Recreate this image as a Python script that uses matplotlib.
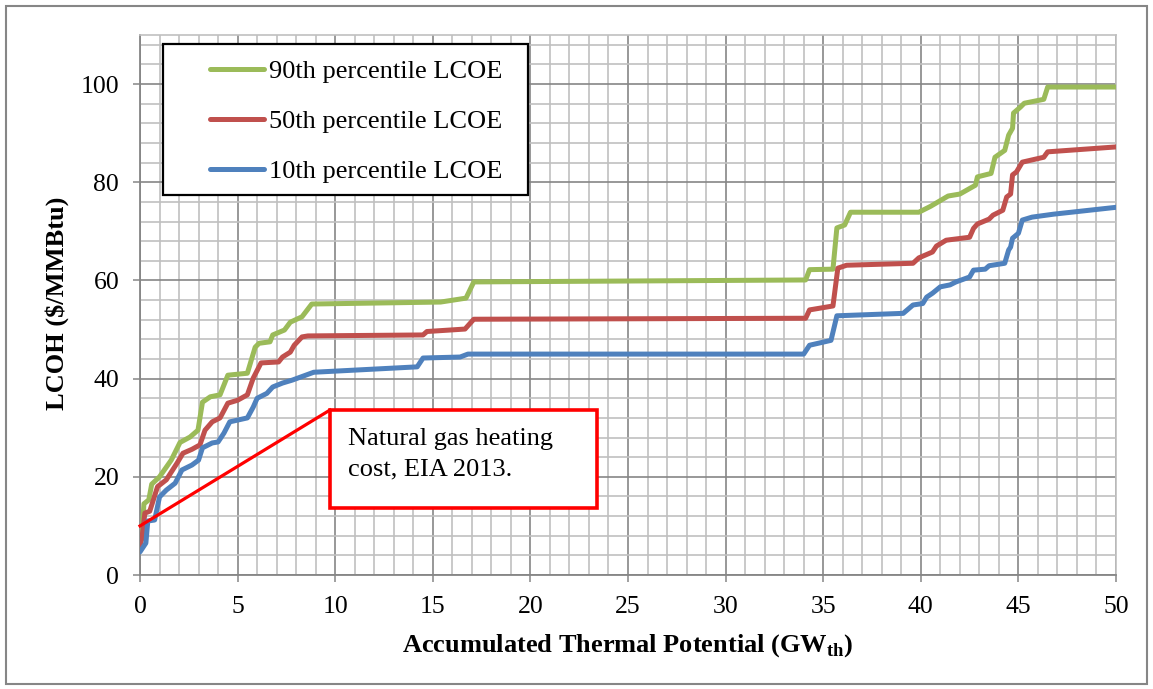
import matplotlib
matplotlib.use("Agg")
import matplotlib.pyplot as plt
from matplotlib.patches import Rectangle
from matplotlib.ticker import MultipleLocator

plt.rcParams['font.family'] = ['Liberation Serif', 'DejaVu Serif']
plt.rcParams['mathtext.fontset'] = 'custom'
plt.rcParams['mathtext.rm'] = 'Liberation Serif'
plt.rcParams['mathtext.bf'] = 'Liberation Serif:bold'

# ---------------- data ----------------
green_x = [0, 0.1, 0.2, 0.45, 0.6, 1.0, 1.6, 2.05, 2.56, 2.97, 3.2, 3.6, 4.1, 4.5, 5.5, 5.9, 6.1, 6.66, 6.8, 7.4,
           7.7, 8.3, 8.8, 15.4, 16.7, 17.1, 34.1, 34.3, 35.5, 35.7, 36.1, 36.4, 39.9, 40.5, 41.4, 42.0, 42.8, 42.9,
           43.6, 43.8, 44.3, 44.5, 44.7, 44.75, 45.1, 45.3, 46.3, 46.5, 50]
green_y = [6.5, 8, 14.5, 15.3, 18.5, 20, 23.4, 27, 28.1, 29.5, 35.2, 36.3, 36.7, 40.7, 41.1, 46.4, 47.2, 47.5, 48.9,
           49.9, 51.5, 52.6, 55.2, 55.6, 56.4, 59.7, 60.1, 62.2, 62.3, 70.7, 71.3, 73.9, 73.9, 75.1, 77.2, 77.6,
           79.4, 81.1, 81.8, 85.1, 86.5, 89.6, 91, 94.1, 95.3, 96.1, 96.9, 99.4, 99.4]

red_x = [0, 0.1, 0.25, 0.5, 0.9, 1.35, 1.9, 2.2, 2.66, 3.07, 3.33, 3.7, 4.1, 4.5, 5.0, 5.5, 5.8, 6.2, 7.1, 7.3,
         7.7, 7.9, 8.3, 8.6, 14.5, 14.7, 16.65, 17.1, 34.1, 34.3, 35.5, 35.75, 36.2, 39.6, 39.9, 40.6, 40.8, 41.3,
         42.5, 42.7, 42.9, 43.5, 43.7, 44.2, 44.4, 44.6, 44.7, 44.9, 45.2, 46.3, 46.5, 50]
red_y = [6.0, 7.5, 12.6, 13, 18, 19.4, 22.8, 24.8, 25.6, 26.5, 29.5, 31.2, 32, 35, 35.6, 36.7, 40.1, 43.2, 43.4,
         44.4, 45.4, 46.8, 48.5, 48.7, 48.9, 49.6, 50.1, 52.1, 52.3, 54, 54.8, 62.5, 63.1, 63.5, 64.6, 65.8, 67,
         68.2, 68.8, 70.6, 71.5, 72.5, 73.3, 74.3, 77, 77.6, 81.5, 82.1, 84.1, 85.1, 86.2, 87.2]

blue_x = [0, 0.3, 0.4, 0.75, 1.0, 1.35, 1.8, 2.15, 2.66, 3.0, 3.2, 3.7, 4.0, 4.3, 4.6, 5.5, 5.8, 6.0, 6.5, 6.8,
          7.3, 7.8, 8.35, 8.9, 14.2, 14.5, 16.4, 16.8, 34.0, 34.3, 35.4, 35.7, 39.1, 39.6, 40.1, 40.3, 40.6, 41.0,
          41.5, 41.8, 42.5, 42.7, 43.3, 43.5, 44.3, 44.5, 44.6, 44.7, 45.0, 45.2, 45.7, 46.8, 50]
blue_y = [4.7, 6.5, 11, 11.2, 15.9, 17.3, 18.7, 21.4, 22.4, 23.4, 25.9, 26.9, 27.1, 28.9, 31.2, 32, 34.2, 36, 37,
          38.3, 39.1, 39.7, 40.5, 41.3, 42.4, 44.2, 44.4, 45.0, 45.0, 46.8, 47.8, 52.8, 53.3, 55, 55.3, 56.6, 57.4,
          58.7, 59.1, 59.7, 60.7, 62.1, 62.3, 63, 63.5, 66.2, 66.8, 68.6, 69.6, 72.3, 72.9, 73.5, 74.9]

labels = ["90th percentile LCOE", "50th percentile LCOE", "10th percentile LCOE"]
colors = ["#9BBB59", "#C0504D", "#4F81BD"]

x_ticks = [0, 5, 10, 15, 20, 25, 30, 35, 40, 45, 50]
y_ticks = [0, 20, 40, 60, 80, 100]

gas_cost = 10.0
annot_text = "Natural gas heating\ncost, EIA 2013."
box_x0, box_x1 = 9.73, 23.41
box_y0, box_y1 = 13.65, 33.6

# ---------------- figure ----------------
W, H = 1153, 689
fig = plt.figure(figsize=(W / 100, H / 100), dpi=100)
ax = fig.add_axes([140 / W, 1 - 575 / H, (1116 - 140) / W, (575 - 35) / H])

# outer chart border
fig.patches.append(Rectangle((5.5 / W, 1 - 684 / H), (1147 - 5.5) / W, (684 - 5.5) / H,
                             transform=fig.transFigure, fill=False, edgecolor="#868686", lw=1.5))

ax.set_xlim(0, 50)
ax.set_ylim(0, 110)
ax.xaxis.set_minor_locator(MultipleLocator(1))
ax.yaxis.set_minor_locator(MultipleLocator(4))
ax.set_xticks(x_ticks)
ax.set_yticks(y_ticks)
ax.grid(which="minor", color="#C0C0C0", lw=1.2, zorder=0)
ax.grid(which="major", color="#868686", lw=1.2, zorder=0.5)
ax.set_axisbelow(True)

for side in ["top", "right"]:
    ax.spines[side].set_color("#C0C0C0")
    ax.spines[side].set_linewidth(1.2)
for side in ["left", "bottom"]:
    ax.spines[side].set_color("#868686")
    ax.spines[side].set_linewidth(1.3)

ax.tick_params(which="major", direction="out", length=5, width=1.1, color="#868686",
               labelsize=18.5, pad=10)
ax.tick_params(which="minor", length=0)

for xs, ys, c, lab in zip([green_x, red_x, blue_x], [green_y, red_y, blue_y], colors, labels):
    ax.plot(xs, ys, color=c, lw=3.6, label=lab, solid_joinstyle="round", solid_capstyle="round", zorder=3)

# annotation
ax.plot([0, box_x0], [gas_cost, box_y1], color="#FF0000", lw=2.3, zorder=4, clip_on=False)
ax.add_patch(Rectangle((box_x0, box_y0), box_x1 - box_x0, box_y1 - box_y0,
                       facecolor="white", edgecolor="#FF0000", lw=2.6, zorder=5))
ax.text(10.66, 29.9, annot_text, fontsize=19, va="top", ha="left", linespacing=1.5, zorder=6)

# legend frame and legend
ax.add_patch(Rectangle(((163 - 140) / 976, (575 - 195) / 540), (528 - 163) / 976, (195 - 44) / 540,
                       transform=ax.transAxes, facecolor="white", edgecolor="black", lw=1.6, zorder=7))
leg = ax.legend(loc="upper left", bbox_to_anchor=((210 - 140) / 976, (575 - 60) / 540),
                frameon=False, fontsize=19, handlelength=2.05, handletextpad=0.2,
                labelspacing=1.0, borderpad=0, borderaxespad=0)
leg.set_zorder(8)
for line in leg.get_lines():
    line.set_linewidth(3.6)
    line.set_solid_capstyle("round")

fig.text(57 / W, 1 - 303 / H, "LCOH ($/MMBtu)", rotation=90, ha="center", va="center",
         fontsize=19, fontweight="bold")
fig.text(628 / W, 1 - 646 / H, r"Accumulated Thermal Potential (GW$_{\mathbf{th}}$)",
         ha="center", va="center", fontsize=19, fontweight="bold")

fig.savefig("out.png", dpi=100, facecolor="white")
